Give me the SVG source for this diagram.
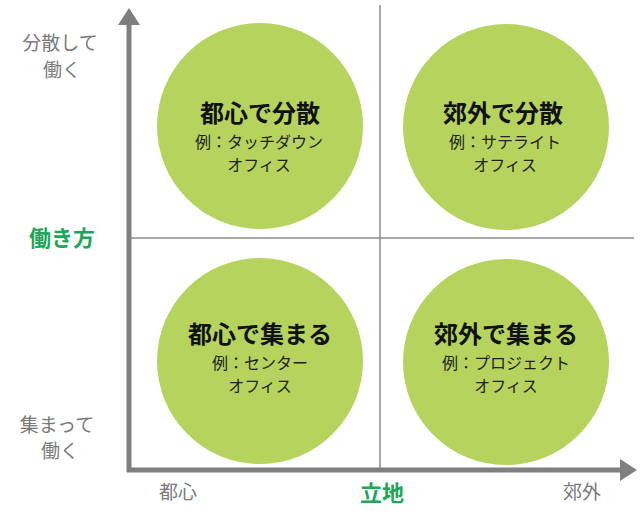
<svg xmlns="http://www.w3.org/2000/svg" width="644" height="512" viewBox="0 0 644 512">
<style>
text{font-family:"Noto Sans CJK JP","Noto Sans",sans-serif;text-anchor:middle}
.circ{fill:#b5d35d}
.title{font-size:24px;font-weight:700;fill:#111}
.sub{font-size:16px;fill:#222}
.lab{font-size:19px;fill:#7a7a7a}
.key{font-size:22px;font-weight:700;fill:#1ea65a}
.axis{stroke:#7f7f7f;stroke-width:5;fill:none}
.div{stroke:#8c8c8c;stroke-width:1.5;fill:none}
</style>
<rect width="644" height="512" fill="#ffffff"/>
<g id="nodes">
<g id="tl"><circle class="circ" cx="260" cy="126" r="103"/>
<text class="title" x="260" y="122">都心で分散</text>
<text class="sub" x="259" y="147.5">例：タッチダウン</text>
<text class="sub" x="259" y="171">オフィス</text></g>
<g id="tr"><circle class="circ" cx="506" cy="127" r="103"/>
<text class="title" x="503" y="122">郊外で分散</text>
<text class="sub" x="505" y="147.5">例：サテライト</text>
<text class="sub" x="505" y="171">オフィス</text></g>
<g id="bl"><circle class="circ" cx="260" cy="361" r="103"/>
<text class="title" x="260" y="343">都心で集まる</text>
<text class="sub" x="260" y="368.5">例：センター</text>
<text class="sub" x="260" y="392">オフィス</text></g>
<g id="br"><circle class="circ" cx="506" cy="362" r="103"/>
<text class="title" x="506" y="343">郊外で集まる</text>
<text class="sub" x="506" y="368.5">例：プロジェクト</text>
<text class="sub" x="506" y="392">オフィス</text></g>
</g>
<g id="connectors">
<line class="div" x1="380" y1="5" x2="380" y2="470"/>
<line class="div" x1="129" y1="238" x2="634" y2="238"/>
<line class="axis" x1="129" y1="472" x2="129" y2="22"/>
<polygon points="129,8 118,25 140,25" fill="#7f7f7f"/>
<line class="axis" x1="127" y1="470" x2="622" y2="470"/>
<polygon points="637,470 620,459 620,481" fill="#7f7f7f"/>
</g>
<g id="labels">
<text class="lab" x="60" y="50">分散して</text>
<text class="lab" x="62" y="77">働く</text>
<text class="key" x="62" y="246">働き方</text>
<text class="lab" x="57" y="432">集まって</text>
<text class="lab" x="60" y="458">働く</text>
<text class="lab" x="178" y="499">都心</text>
<text class="key" x="382" y="501">立地</text>
<text class="lab" x="582" y="499">郊外</text>
</g>
</svg>
